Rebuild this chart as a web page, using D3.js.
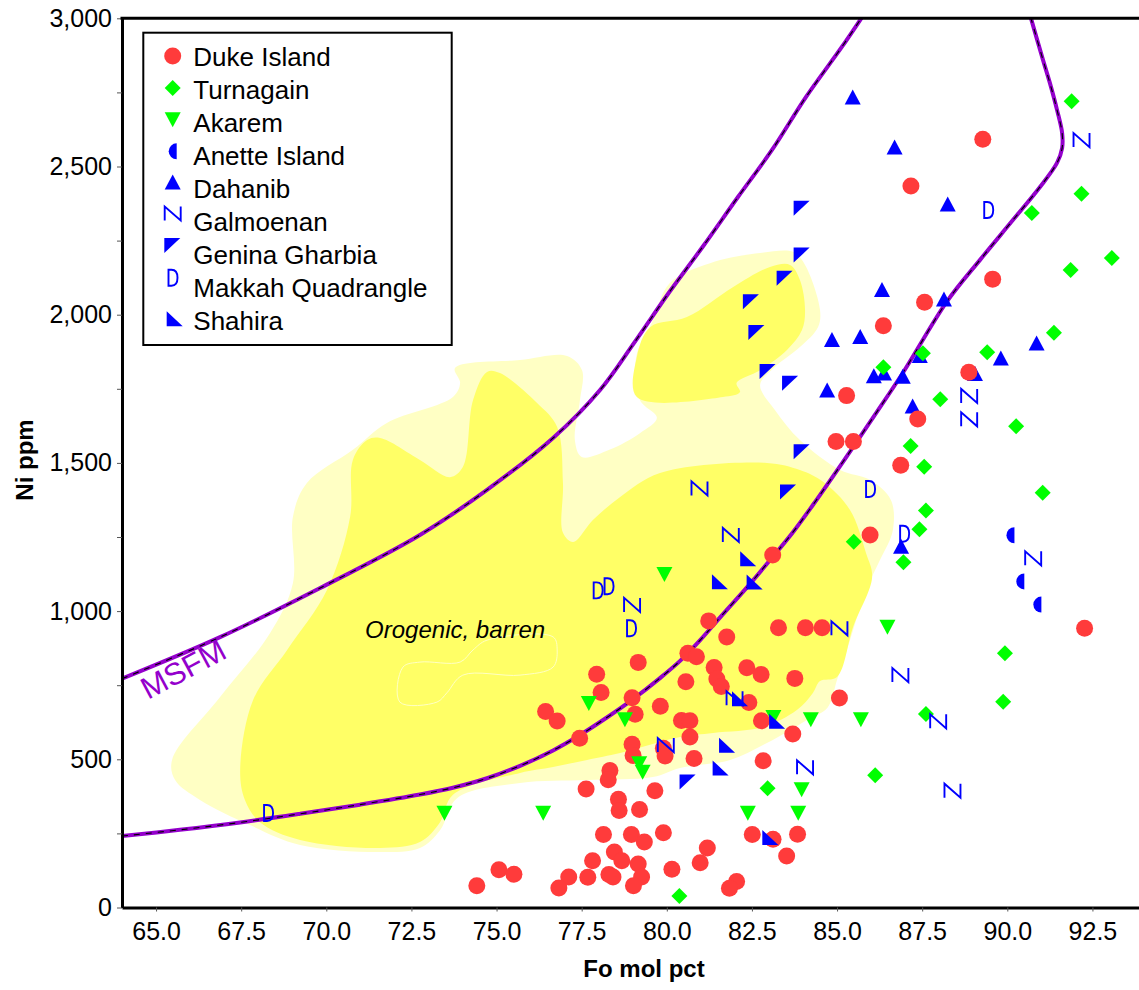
<!DOCTYPE html>
<html>
<head>
<meta charset="utf-8">
<script src="https://cdn.jsdelivr.net/npm/d3@7"></script>
<style>
  body { margin: 0; background: #fff; }
  svg text { font-family: "Liberation Sans", Arial, sans-serif; }
</style>
</head>
<body>
<svg id="chart" width="1139" height="990"></svg>
<script>
// Values: [Fo mol pct, Ni ppm]
const dukeIsland = [[89.28,2592],[87.17,2434],[87.57,2042],[89.57,2120],[86.36,1963],[88.87,1806],[85.28,1727],[84.97,1572],[85.48,1572],[87.37,1648],[86.87,1492],[85.97,1257],[83.11,1189],[92.27,942],[81.23,967],[81.76,913],[83.28,944],[84.07,944],[84.56,944],[80.62,858],[80.87,846],[79.16,827],[81.39,810],[82.35,809],[82.77,786],[83.76,773],[77.94,787],[78.07,725],[80.56,762],[81.47,771],[81.60,746],[82.41,692],[85.07,707],[78.98,708],[79.07,652],[79.81,679],[76.44,661],[76.78,629],[77.44,571],[80.43,631],[80.68,630],[80.68,575],[82.78,630],[83.70,585],[78.98,551],[79.01,513],[79.90,537],[79.95,511],[80.80,503],[82.83,495],[78.33,462],[78.28,431],[77.63,400],[79.65,394],[78.58,365],[78.60,327],[79.20,331],[78.14,246],[78.96,246],[79.34,221],[79.90,252],[82.51,246],[83.12,230],[83.84,247],[81.19,201],[83.52,174],[78.46,187],[78.68,158],[77.82,158],[80.98,151],[79.16,147],[79.26,103],[80.15,129],[77.12,103],[76.83,66],[77.68,102],[78.30,111],[78.42,103],[79.02,73],[82.05,88],[81.84,65],[75.07,127],[75.51,112],[74.42,73]];
const turnagain = [[91.89,2720],[92.18,2408],[90.72,2343],[93.07,2191],[91.86,2151],[91.37,1939],[89.41,1873],[87.52,1870],[86.36,1823],[88.03,1715],[90.26,1624],[87.16,1557],[87.56,1487],[91.04,1399],[87.61,1339],[87.42,1276],[85.49,1234],[86.95,1165],[89.93,858],[89.88,694],[87.61,653],[86.12,446],[82.96,402],[80.37,39]];
const akarem = [[79.93,1125],[77.71,690],[78.77,635],[79.19,487],[79.29,458],[73.47,320],[76.37,320],[86.48,947],[84.23,635],[85.70,635],[83.13,643],[83.96,399],[82.38,320],[83.86,320]];
const anetteIsland = [[90.21,1256],[90.50,1100],[91.00,1022]];
const dahanib = [[85.46,2733],[86.69,2564],[88.25,2372],[86.32,2083],[88.14,2051],[84.85,1915],[85.68,1925],[90.86,1903],[89.81,1852],[87.43,1861],[86.08,1792],[86.38,1802],[86.93,1791],[89.05,1800],[84.71,1744],[87.22,1690],[86.88,1217]];
const galmoenan = [[92.18,2589],[88.88,1726],[88.88,1647],[80.96,1414],[81.88,1257],[78.98,1021],[85.07,942],[86.86,784],[81.99,706],[79.97,548],[84.06,473],[87.97,628],[90.76,1178],[88.39,394]];
const geninaGharbia = [[83.96,2359],[83.96,2201],[83.46,2123],[82.47,2044],[82.63,1940],[82.96,1808],[83.62,1769],[83.96,1538],[83.56,1402],[80.61,423]];
const makkah = [[89.44,2353],[85.97,1412],[86.97,1261],[77.97,1070],[78.29,1084],[78.95,942],[68.29,319]];
const shahira = [[82.39,1177],[81.56,1099],[82.58,1098],[82.15,704],[83.24,628],[81.77,547],[81.58,471],[83.04,236]];

const seriesNames = ["Duke Island","Turnagain","Akarem","Anette Island","Dahanib","Galmoenan","Genina Gharbia","Makkah Quadrangle","Shahira"];

// MSFM envelope lines
const msfmUpper = [[64.0,772],[66.88,912],[69.82,1078],[72.75,1257],[74.72,1409],[76.66,1584],[78.04,1746],[79.04,1905],[80.06,2074],[81.06,2230],[82.09,2397],[83.09,2556],[84.09,2735],[85.12,2900],[85.7,2998],[86.0,3050]];
const msfmLower = [[64.0,241],[65.70,262],[67.47,287],[69.23,316],[70.99,347],[72.75,381],[73.72,404],[74.72,436],[75.69,478],[76.66,530],[77.45,582],[78.24,641],[79.01,703],[79.80,774],[80.39,832],[80.98,902],[81.56,978],[82.36,1081],[83.03,1172],[83.71,1267],[84.29,1358],[85.17,1503],[86.17,1672],[86.94,1805],[88.23,2045],[89.20,2185],[90.17,2320],[90.96,2431],[91.46,2512],[91.61,2562],[91.61,2613],[91.46,2691],[91.25,2782],[91.05,2859],[90.70,2998],[90.58,3045]];

// Orogenic, barren field outlines
const fieldOuter = [[65.47,498],[66.88,710],[68.35,926],[69.02,1095],[69.02,1318],[69.43,1432],[70.78,1544],[71.78,1635],[73.72,1722],[73.93,1770],[73.78,1820],[75.69,1847],[77.07,1861],[77.51,1813],[77.45,1712],[77.30,1577],[77.50,1520],[78.33,1545],[79.21,1600],[79.71,1652],[79.21,1712],[79.10,1857],[79.57,1975],[80.09,2107],[81.27,2174],[82.74,2208],[83.71,2212],[84.06,2168],[84.50,2016],[84.44,1958],[83.91,1891],[83.18,1824],[82.74,1763],[83.18,1678],[83.91,1577],[85.09,1476],[85.97,1442],[86.58,1375],[86.64,1274],[86.26,1172],[85.85,1071],[85.38,902],[85.00,768],[84.73,676],[84.12,633],[82.94,555],[81.86,498],[80.39,471],[79.59,440],[77.66,430],[75.69,420],[73.84,369],[73.34,261],[72.75,201],[71.58,187],[69.23,211],[67.76,278],[66.29,363],[65.56,430]];
const fieldCore = [[67.61,363],[67.47,464],[67.85,700],[68.85,869],[70.02,1071],[70.70,1318],[70.78,1510],[71.20,1577],[71.58,1584],[72.75,1510],[73.63,1452],[74.01,1486],[74.31,1712],[74.72,1807],[75.10,1803],[76.19,1702],[76.78,1621],[76.95,1432],[76.95,1264],[77.25,1233],[77.83,1307],[78.63,1385],[79.80,1466],[82.94,1500],[83.91,1476],[84.59,1436],[85.38,1341],[85.85,1196],[86.03,1115],[85.47,946],[85.00,778],[84.50,764],[84.29,724],[83.82,666],[82.83,609],[81.36,589],[80.39,575],[78.63,521],[77.66,498],[76.66,474],[75.69,454],[73.72,380],[73.34,288],[72.75,221],[71.58,201],[69.23,228],[68.05,288]];
const fieldCoreUpper = [[79.12,1722],[79.12,1857],[79.51,1958],[80.59,1992],[81.94,2093],[83.03,2161],[83.62,2168],[83.91,2117],[84.06,2016],[83.97,1948],[83.53,1881],[82.74,1813],[82.05,1770],[82.15,1739],[81.65,1722]];
const fieldFaint = [[72.16,693],[72.25,811],[72.75,828],[73.93,828],[74.31,869],[74.72,902],[76.66,913],[76.78,869],[76.66,811],[75.69,784],[74.01,784],[73.54,724],[73.25,693]];

const xTicks = d3.range(65, 93, 2.5);
const yTicks = d3.range(0, 3001, 250);

const svg = d3.select("#chart");
const x = d3.scaleLinear().domain([64, 94]).range([122, 1143.5]);
const y = d3.scaleLinear().domain([0, 3000]).range([907.5, 18.3]);

svg.append("rect").attr("width", 1139).attr("height", 990).attr("fill", "#fff");

svg.append("clipPath").attr("id", "plot")
  .append("rect").attr("x", 122).attr("y", 18.3).attr("width", 1022).attr("height", 889.2);

const plot = svg.append("g").attr("clip-path", "url(#plot)");

// fields
const area = d3.line().x(d => x(d[0])).y(d => y(d[1])).curve(d3.curveCatmullRomClosed.alpha(0.5));
plot.append("path").attr("d", area(fieldOuter)).attr("fill", "#ffffc4");
plot.append("path").attr("d", area(fieldCore)).attr("fill", "#ffff66");
plot.append("path").attr("d", area(fieldCoreUpper)).attr("fill", "#ffff66");
plot.append("path").attr("d", area(fieldFaint)).attr("fill", "none")
  .attr("stroke", "#ffffc4").attr("stroke-width", 1);

plot.append("text")
  .attr("x", x(71.14)).attr("y", y(909))
  .attr("font-size", 24).attr("font-style", "italic")
  .text("Orogenic, barren");

// MSFM lines
const line = d3.line().x(d => x(d[0])).y(d => y(d[1])).curve(d3.curveCatmullRom.alpha(0.5));
[msfmUpper, msfmLower].forEach(pts => {
  plot.append("path").attr("d", line(pts)).attr("fill", "none")
    .attr("stroke", "#9400cc").attr("stroke-width", 4);
  plot.append("path").attr("d", line(pts)).attr("fill", "none")
    .attr("stroke", "#000").attr("stroke-width", 1.1).attr("stroke-dasharray", "6,6");
});

plot.append("text")
  .attr("transform", `translate(${x(64.76)},${y(700)}) rotate(-28)`)
  .attr("font-size", 31).attr("fill", "#9400cc")
  .text("MSFM");

// marker glyphs
const glyphs = {
  circle: { d: "M8.5,0A8.5,8.5 0 1,1 -8.5,0A8.5,8.5 0 1,1 8.5,0Z", fill: "#ff3b3b" },
  diamond: { d: "M0,-8L8,0L0,8L-8,0Z", fill: "#00ff00" },
  down: { d: "M-8,-7L8,-7L0,8Z", fill: "#00ff00" },
  half: { d: "M0,-8A8,8 0 0,0 0,8Z", fill: "#0000ff" },
  up: { d: "M0,-8L8,7L-8,7Z", fill: "#0000ff" },
  letterN: { d: "M-8,7V-7L8,7V-7", stroke: "#0000ff" },
  corner: { d: "M-8,-7.5H8L-8,7.5Z", fill: "#0000ff" },
  letterD: { d: "M-4,-8V8H-1Q5,8 5,0Q5,-8 -1,-8Z", stroke: "#0000ff" },
  wedge: { d: "M-8,-7.5V7.5H8Z", fill: "#0000ff" }
};
const series = [
  { data: dukeIsland, g: "circle" },
  { data: turnagain, g: "diamond" },
  { data: akarem, g: "down" },
  { data: anetteIsland, g: "half" },
  { data: dahanib, g: "up" },
  { data: galmoenan, g: "letterN" },
  { data: geninaGharbia, g: "corner" },
  { data: makkah, g: "letterD" },
  { data: shahira, g: "wedge" }
];

function drawGlyph(sel, name) {
  const s = glyphs[name];
  sel.attr("d", s.d)
    .attr("fill", s.fill || "none")
    .attr("stroke", s.stroke || "none")
    .attr("stroke-width", s.stroke ? 1.9 : 0);
}

// draw order close to the picture's stacking
[4, 3, 0, 1, 2, 5, 6, 7, 8].forEach(i => {
  plot.append("g").selectAll("path")
    .data(series[i].data)
    .join("path")
    .attr("transform", d => `translate(${x(d[0])},${y(d[1])})`)
    .call(drawGlyph, series[i].g);
});

// axes
const yAxis = svg.append("g").attr("transform", "translate(122,0)")
  .call(d3.axisLeft(y).tickValues(yTicks)
    .tickFormat(d => d % 500 === 0 ? d3.format(",")(d) : "")
    .tickSize(5).tickSizeOuter(0).tickPadding(5));
const xAxis = svg.append("g").attr("transform", "translate(0,907.5)")
  .call(d3.axisBottom(x).tickValues(xTicks).tickFormat(d3.format(".1f"))
    .tickSize(4).tickSizeOuter(0).tickPadding(11));
[yAxis, xAxis].forEach(a => {
  a.select(".domain").attr("stroke-width", 3);
  a.selectAll(".tick line").attr("stroke", "#555");
  a.selectAll("text").attr("font-size", 25).attr("fill", "#000")
    .style("font-family", '"Liberation Sans", Arial, sans-serif');
});
svg.append("line").attr("x1", 120.5).attr("x2", 1139).attr("y1", y(3000)).attr("y2", y(3000))
  .attr("stroke", "#000").attr("stroke-width", 3);

svg.append("text").attr("x", 644).attr("y", 977).attr("text-anchor", "middle")
  .attr("font-size", 24).attr("font-weight", "bold").text("Fo mol pct");
svg.append("text").attr("transform", "translate(33,460) rotate(-90)").attr("text-anchor", "middle")
  .attr("font-size", 24).attr("font-weight", "bold").text("Ni ppm");

// legend
const legend = svg.append("g");
legend.append("rect").attr("x", 143.3).attr("y", 32.7).attr("width", 308.4).attr("height", 312.3)
  .attr("fill", "#fff").attr("stroke", "#000").attr("stroke-width", 2);
const symOffset = [0, -1, -3, -4, -6, -8, -9, -10, -2];
const symX = [172.7, 172.7, 172.7, 176.7, 172.7, 172.7, 172.3, 172.5, 174.7];
seriesNames.forEach((name, i) => {
  const rowY = 56 + i * 33.1;
  legend.append("path")
    .attr("transform", `translate(${symX[i]},${rowY + symOffset[i]})`)
    .call(drawGlyph, series[i].g);
  legend.append("text").attr("x", 193.3).attr("y", rowY + 9.5)
    .attr("font-size", 26).text(name);
});
</script>
</body>
</html>
